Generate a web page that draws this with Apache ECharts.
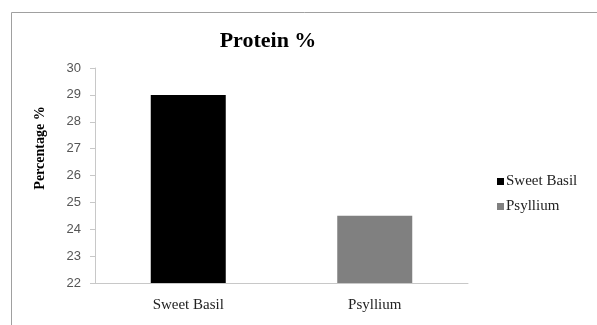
<!DOCTYPE html>
<html>
<head>
<meta charset="utf-8">
<script src="https://cdn.jsdelivr.net/npm/echarts@6/dist/echarts.min.js"></script>
<style>
  html, body { margin: 0; padding: 0; background: #fff; }
  #chart { width: 597px; height: 325px; }
</style>
</head>
<body>
<div id="chart"></div>
<script>
// Protein content by seed type
const categories = ['Sweet Basil', 'Psyllium'];
const sweetBasil = [29, '-'];
const psyllium = ['-', 24.5];
const yTicks = { min: 22, max: 30, interval: 1 };
const yTitle = 'Percentage %';

const chart = echarts.init(document.getElementById('chart'));
const serif = '"Liberation Serif", "Times New Roman", serif';
const sans = '"Liberation Sans", Calibri, sans-serif';

chart.setOption({
  animation: false,
  backgroundColor: '#ffffff',
  graphic: [{
    type: 'rect',
    shape: { x: 11.5, y: 12.5, width: 700, height: 400 },
    style: { fill: 'none', stroke: '#a0a0a0', lineWidth: 1 },
    silent: true
  }, {
    type: 'text',
    x: 40, y: 148,
    rotation: Math.PI / 2,
    style: {
      text: yTitle,
      font: 'bold 14px ' + serif,
      fill: '#000',
      align: 'center',
      verticalAlign: 'middle'
    },
    silent: true
  }],
  title: {
    text: 'Protein %',
    left: 263, top: 25,
    textAlign: 'center',
    textStyle: { fontFamily: serif, fontWeight: 'bold', fontSize: 22, color: '#000' }
  },
  legend: {
    orient: 'vertical',
    left: 492, top: 169,
    itemWidth: 7, itemHeight: 7, itemGap: 10,
    icon: 'rect',
    textStyle: { fontFamily: serif, fontSize: 15, color: '#222', padding: [0, 0, 0, -3] },
    data: categories
  },
  grid: { left: 95, right: 129, top: 68, bottom: 42 },
  xAxis: {
    type: 'category',
    data: categories,
    axisLine: { lineStyle: { color: '#c8c8c8' } },
    axisTick: { show: false },
    axisLabel: { fontFamily: serif, fontSize: 15, color: '#222', margin: 15 }
  },
  yAxis: {
    type: 'value',
    min: yTicks.min, max: yTicks.max, interval: yTicks.interval,
    axisLine: { show: true, lineStyle: { color: '#c8c8c8' } },
    axisTick: { show: true, inside: false, length: 5, lineStyle: { color: '#c8c8c8' } },
    splitLine: { show: false },
    axisLabel: { fontFamily: sans, fontSize: 13, color: '#555', margin: 14 }
  },
  series: [
    { name: 'Sweet Basil', type: 'bar', data: sweetBasil, barWidth: 75, barGap: '-100%',
      itemStyle: { color: '#000000' } },
    { name: 'Psyllium', type: 'bar', data: psyllium, barWidth: 75, barGap: '-100%',
      itemStyle: { color: '#808080' } }
  ]
});
</script>
</body>
</html>
